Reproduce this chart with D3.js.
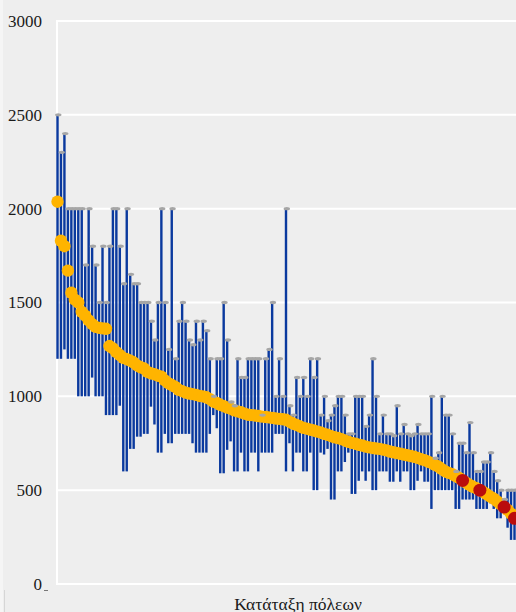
<!DOCTYPE html>
<html><head><meta charset="utf-8">
<script src="https://cdn.jsdelivr.net/npm/d3@7"></script>
<style>html,body{margin:0;padding:0;background:#eeeeee;overflow:hidden;} svg{display:block;}</style>
</head><body><svg id="c" width="516" height="612"></svg>
<script>
const yTicks = [0, 500, 1000, 1500, 2000, 2500, 3000];
const xTitle = "Κατάταξη πόλεων";
const maxVals = [
2500,2300,2400,2000,2000,2000,2000,2000,1700,2000,
1800,1700,1500,1800,1500,1800,2000,2000,1800,1600,
2000,1650,1600,1600,1500,1500,1500,1400,1300,1500,
2000,1500,1250,2000,1200,1400,1500,1400,1300,1275,
1400,1300,1400,1350,1200,1000,1200,1200,1500,1300,
970,950,1200,1100,1100,1200,1200,1200,1200,900,
1200,1250,1500,1000,1200,1000,2000,950,900,1100,
1000,1100,1000,1200,1100,1200,900,1000,870,900,
950,1000,1000,900,800,800,1000,1000,1000,840,
900,1200,1000,800,900,800,800,790,950,800,
850,800,790,800,850,800,800,800,1000,670,
700,1000,900,900,800,600,750,750,700,860,
700,600,600,650,650,700,600,550,500,450,
500,500,500];
const minVals = [
1200,1200,1250,1200,1200,1200,1000,1000,1000,1000,
1100,1000,1000,1000,900,900,900,900,950,600,
600,720,720,785,785,800,800,945,850,700,
700,800,750,750,800,800,800,800,800,750,
700,700,700,700,800,900,830,590,590,715,
760,600,600,700,600,600,700,700,600,700,
700,700,700,800,800,800,600,750,600,700,
700,600,600,700,500,500,700,690,720,450,
450,600,600,650,700,480,480,550,600,550,
600,500,500,600,600,600,545,545,600,545,
600,600,500,500,550,600,545,545,400,500,
500,500,500,500,500,400,400,450,450,450,
450,400,400,400,400,430,400,350,350,380,
300,235,235];
const medianVals = [
2037,1829,1800,1670,1552,1515,1500,1450,1430,1405,
1385,1370,1365,1362,1360,1268,1255,1235,1220,1205,
1198,1190,1180,1165,1155,1148,1130,1122,1118,1110,
1105,1085,1070,1060,1050,1035,1028,1020,1015,1012,
1008,1002,1000,995,985,972,965,955,948,940,
935,925,920,915,908,902,900,898,895,892,
890,888,885,882,880,878,875,865,855,848,
840,832,828,822,818,812,808,800,795,788,
782,778,772,765,758,752,748,742,738,732,
728,725,722,720,716,712,706,702,698,694,
690,686,682,678,672,665,660,652,645,635,
625,612,600,592,585,575,565,552,540,528,
518,510,500,490,478,465,455,440,425,410,
395,375,350];
const highlighted = [117, 122, 129, 132];

const W = 516, H = 612;
const svg = d3.select("#c");
svg.append("rect").attr("width", W).attr("height", H).attr("fill", "#eeeeee");
svg.append("rect").attr("x", 0).attr("y", 0).attr("width", 3).attr("height", H).attr("fill", "#f5f5f5");
svg.append("line").attr("x1", 4.5).attr("x2", 4.5).attr("y1", 590).attr("y2", H).attr("stroke", "#d6d6d6").attr("stroke-width", 1);

const idx = d3.range(medianVals.length);
const x = d3.scaleLinear().domain([0, idx.length - 1]).range([57.5, 514.5]);
const y = d3.scaleLinear().domain([0, 3000]).range([584, 21]);
const left = 57;

// gridlines
svg.append("g").selectAll("line").data(yTicks).join("line")
  .attr("x1", left).attr("x2", W)
  .attr("y1", d => y(d)).attr("y2", d => y(d))
  .attr("stroke", "#ffffff").attr("stroke-width", 2);
svg.append("line").attr("x1", left).attr("x2", left)
  .attr("y1", y(3000) - 1).attr("y2", y(0) + 1)
  .attr("stroke", "#ffffff").attr("stroke-width", 2);

// y axis labels
const ax = svg.append("g").attr("transform", `translate(${left},0)`)
  .call(d3.axisLeft(y).tickValues(yTicks).tickSize(0).tickPadding(15).tickFormat(d3.format("d")));
ax.select(".domain").remove();
ax.selectAll("text").attr("font-family", "'Liberation Serif','Times New Roman',serif")
  .attr("font-size", 17).attr("fill", "#1a1a1a");
svg.append("line").attr("x1", 44).attr("x2", 48).attr("y1", 590.5).attr("y2", 590.5)
  .attr("stroke", "#777").attr("stroke-width", 1);

// range bars
svg.append("g").selectAll("rect").data(idx).join("rect")
  .attr("x", i => x(i) - 1.2).attr("width", 2.4)
  .attr("y", i => y(maxVals[i]))
  .attr("height", i => y(minVals[i]) - y(maxVals[i]))
  .attr("fill", "#0a399e");

// medians (orange)
svg.append("g").selectAll("circle").data(idx.filter(i => !highlighted.includes(i))).join("circle")
  .attr("cx", i => x(i)).attr("cy", i => y(medianVals[i])).attr("r", 6.2)
  .attr("fill", "#FFB400");

// caps
svg.append("g").selectAll("ellipse").data(idx).join("ellipse")
  .attr("cx", i => x(i) + 0.8).attr("cy", i => y(maxVals[i]))
  .attr("rx", 3.2).attr("ry", 1.7).attr("fill", "#a6a6a6");

// highlighted medians (red)
svg.append("g").selectAll("circle").data(highlighted).join("circle")
  .attr("cx", i => x(i)).attr("cy", i => y(medianVals[i])).attr("r", 6.5)
  .attr("fill", "#BA0C0C");

// x title
svg.append("text").attr("x", 298).attr("y", 610).attr("text-anchor", "middle")
  .attr("font-family", "'Liberation Serif','Times New Roman',serif")
  .attr("font-size", 17.5).attr("fill", "#1a1a1a").text(xTitle);
</script>
</body></html>
